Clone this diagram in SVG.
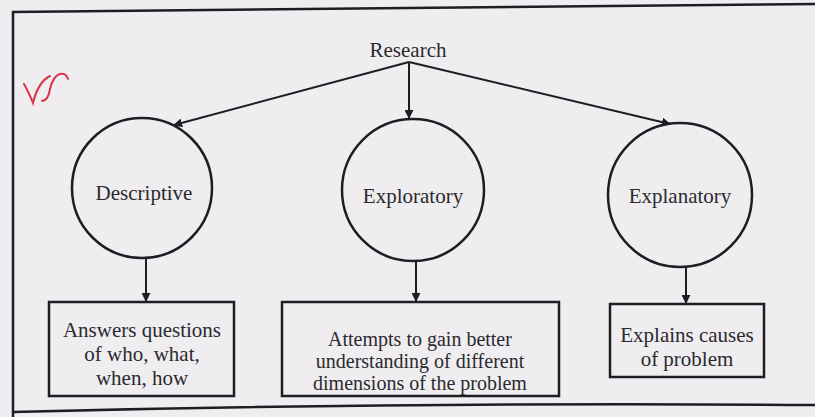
<svg xmlns="http://www.w3.org/2000/svg" width="815" height="417" viewBox="0 0 815 417">
<defs>
<style>
.lbl{font-family:"Liberation Serif","Times New Roman",serif;font-size:21px;fill:#2b2a2e;text-anchor:middle}
.sm{font-size:20px}
.shape{fill:none;stroke:#1e1d22;stroke-width:2.5}
.conn{fill:none;stroke:#1e1d22;stroke-width:2}
.frame{fill:none;stroke:#1e1d22;stroke-width:2.5}
</style>
<marker id="ah" viewBox="0 0 10 10" refX="9" refY="5" markerWidth="4.5" markerHeight="4.5" orient="auto" markerUnits="strokeWidth">
<path d="M0,0 L10,5 L0,10 z" fill="#1e1d22"/>
</marker>
</defs>
<rect x="0" y="0" width="815" height="417" fill="#efedf0"/>
<g id="frame">
<path class="frame" d="M12,12 L815,4"/>
<path class="frame" d="M13,11 L13,417"/>
<path class="frame" d="M13,412 Q400,402 815,405"/>
</g>
<path d="M24,84 Q30,95 33,103 Q38,82 50,76 M42,101 Q48,101 50,89 Q53,76 60,74 Q66,73 68,79" fill="none" stroke="#d8344a" stroke-width="2" stroke-linecap="round"/>
<g id="connectors">
<path class="conn" d="M409,62 L174,125" marker-end="url(#ah)"/>
<path class="conn" d="M409,62 L409,118" marker-end="url(#ah)"/>
<path class="conn" d="M409,62 L670,124" marker-end="url(#ah)"/>
<path class="conn" d="M146,258 L146,301" marker-end="url(#ah)"/>
<path class="conn" d="M416,261 L416,301" marker-end="url(#ah)"/>
<path class="conn" d="M686,266 L686,303" marker-end="url(#ah)"/>
</g>
<g id="research">
<text class="lbl" x="408" y="57">Research</text>
</g>
<g id="descriptive">
<circle class="shape" cx="142" cy="188" r="70"/>
<text class="lbl" x="144" y="200">Descriptive</text>
</g>
<g id="exploratory">
<circle class="shape" cx="413" cy="190" r="71"/>
<text class="lbl" x="413" y="203">Exploratory</text>
</g>
<g id="explanatory">
<circle class="shape" cx="680" cy="195" r="72"/>
<text class="lbl" x="680" y="203">Explanatory</text>
</g>
<g id="answers">
<rect class="shape" x="49" y="302" width="185" height="94"/>
<text class="lbl" x="142" y="337">Answers questions</text>
<text class="lbl" x="142" y="361">of who, what,</text>
<text class="lbl" x="142" y="385">when, how</text>
</g>
<g id="attempts">
<rect class="shape" x="282" y="302" width="277" height="94"/>
<text class="lbl sm" x="420" y="346">Attempts to gain better</text>
<text class="lbl sm" x="420" y="368">understanding of different</text>
<text class="lbl sm" x="420" y="390">dimensions of the problem</text>
</g>
<g id="explains">
<rect class="shape" x="610" y="304" width="154" height="73"/>
<text class="lbl" x="687" y="342">Explains causes</text>
<text class="lbl" x="687" y="366">of problem</text>
</g>
</svg>
